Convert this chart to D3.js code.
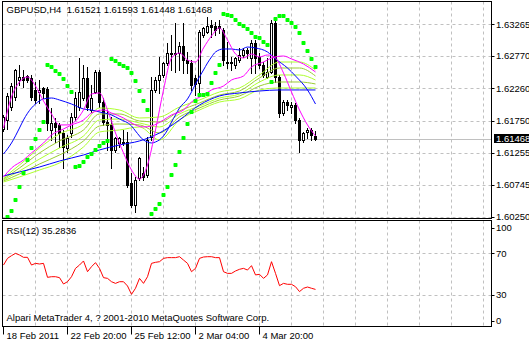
<!DOCTYPE html>
<html>
<head>
<meta charset="utf-8">
<script src="https://cdn.jsdelivr.net/npm/d3@7"></script>
<style>
  body { margin: 0; background: #fff; }
  svg text { font-family: "Liberation Sans", Arial, sans-serif; font-size: 9.5px; fill: #000; }
</style>
</head>
<body>
<div id="chart"></div>
<script>
// GBPUSD H4 candles (bar 0 = 18 Feb 2011)
const opens = [1.61625,1.61766,1.61975,1.62132,1.62393,1.62445,1.62455,1.62419,1.62236,1.62210,
  1.62262,1.62247,1.61610,1.61714,1.61688,1.61558,1.61323,1.61558,1.61819,1.61975,
  1.62106,1.62419,1.61923,1.62210,1.62523,1.62053,1.61740,1.61688,1.61297,1.61401,
  1.61427,1.61427,1.60775,1.60436,1.60853,1.60931,1.60905,1.61505,1.62236,1.62393,
  1.62471,1.62654,1.62821,1.62800,1.62821,1.62925,1.62706,1.62654,1.62419,1.62341,
  1.63098,1.63150,1.63254,1.63238,1.63238,1.63176,1.62680,1.62654,1.62628,1.62706,
  1.62784,1.62863,1.62732,1.62967,1.62758,1.62628,1.62445,1.62523,1.63280,1.62445,
  1.61871,1.62053,1.61975,1.62001,1.61766,1.61453,1.61573,1.61610,1.61521];
const highs = [1.61845,1.62184,1.62341,1.62570,1.62628,1.62549,1.62471,1.62471,1.62367,1.62393,
  1.62288,1.62288,1.61949,1.61793,1.61714,1.61610,1.61532,1.61871,1.62210,1.62732,
  1.62628,1.62602,1.62314,1.62549,1.62549,1.62106,1.61923,1.61819,1.61505,1.61505,
  1.61610,1.61584,1.60931,1.60879,1.61192,1.61036,1.61505,1.62445,1.62445,1.62758,
  1.62680,1.62967,1.63098,1.63280,1.62993,1.63280,1.62836,1.62706,1.62471,1.63176,
  1.63228,1.63385,1.63332,1.63306,1.63332,1.63202,1.62993,1.62758,1.62758,1.62889,
  1.62889,1.62889,1.63019,1.63019,1.62810,1.62680,1.62732,1.63332,1.63385,1.62471,
  1.62079,1.62079,1.62053,1.62027,1.61793,1.61584,1.61636,1.61636,1.61593];
const lows = [1.61599,1.61625,1.61923,1.62079,1.62314,1.62288,1.62367,1.62079,1.62027,1.62027,
  1.62106,1.61610,1.61453,1.61427,1.61349,1.61010,1.61271,1.61505,1.61766,1.61923,
  1.62079,1.61923,1.61897,1.62184,1.61975,1.61688,1.61297,1.61010,1.61271,1.61349,
  1.61375,1.60723,1.60409,1.60331,1.60827,1.60827,1.60879,1.61453,1.62210,1.62184,
  1.62445,1.62628,1.62549,1.62523,1.62549,1.62497,1.62497,1.62236,1.62158,1.62158,
  1.63071,1.63124,1.63071,1.63098,1.63124,1.62628,1.62576,1.62549,1.62576,1.62680,
  1.62758,1.62732,1.62497,1.62497,1.62576,1.62445,1.62419,1.62497,1.62367,1.61819,
  1.61845,1.61923,1.61871,1.61714,1.61271,1.61427,1.61479,1.61453,1.61448];
const closes = [1.61808,1.62142,1.62299,1.62549,1.62445,1.62393,1.62393,1.62132,1.62079,1.62236,
  1.62184,1.61714,1.61714,1.61662,1.61558,1.61349,1.61479,1.61819,1.62106,1.62210,
  1.62419,1.61975,1.62106,1.62523,1.62053,1.61740,1.61688,1.61297,1.61479,1.61479,
  1.61401,1.60749,1.60436,1.60827,1.61166,1.60879,1.61453,1.62236,1.62393,1.62471,
  1.62654,1.62821,1.62800,1.62821,1.62925,1.62706,1.62654,1.62314,1.62330,1.63150,
  1.63202,1.63238,1.63228,1.63176,1.63202,1.62706,1.62654,1.62680,1.62732,1.62784,
  1.62863,1.62810,1.62967,1.62732,1.62628,1.62471,1.62523,1.63280,1.62445,1.61871,
  1.62053,1.62001,1.62001,1.61766,1.61453,1.61558,1.61610,1.61532,1.61468];

// Parabolic SAR per bar
const sar = [null,1.60246,1.60340,1.60512,1.60716,1.60935,1.61139,1.61327,1.61468,1.61609,
  1.61734,1.62627,1.62596,1.62533,1.62486,1.62408,1.62298,1.62204,1.61029,1.61045,
  1.61107,1.61186,1.61233,1.61296,1.61358,1.61405,1.61437,1.62721,1.62690,1.62643,
  1.62612,1.62580,1.62502,1.62377,1.62220,1.62063,1.61922,1.60293,1.60371,1.60449,
  1.60590,1.60716,1.60904,1.61060,1.61264,1.61484,1.61703,1.61891,1.62063,1.62157,
  1.62157,1.62173,1.62345,1.62502,1.62627,1.63427,1.63411,1.63395,1.63333,1.63270,
  1.63239,1.63192,1.63129,1.63066,1.63051,1.62988,1.62941,1.62361,1.63348,1.63395,
  1.63395,1.63333,1.63286,1.63223,1.63129,1.62972,1.62847,1.62721,1.62596];

// moving averages as [bar, price]
const magentaFast = [[0,1.61640],[2,1.62126],[4,1.62361],[6,1.62439],[8,1.62298],[10,1.62063],
  [12,1.61860],[14,1.61688],[16,1.61688],[18,1.61750],[20,1.61922],[22,1.62173],[24,1.62189],
  [26,1.61922],[28,1.61562],[30,1.61249],[32,1.60982],[34,1.60841],[36,1.61060],[38,1.61609],
  [40,1.62236],[42,1.62737],[44,1.62815],[46,1.62706],[48,1.62674],[50,1.62894],[52,1.63082],
  [54,1.63207],[56,1.63019],[58,1.62800],[60,1.62737],[62,1.62800],[64,1.62753],[66,1.62784],
  [68,1.62737],[70,1.62502],[72,1.62204],[74,1.61922],[76,1.61688],[78,1.61515]];
const magentaSlow = [[0,1.60872],[2,1.61013],[5,1.61139],[7,1.61249],[10,1.61405],[12,1.61531],
  [15,1.61625],[17,1.61688],[20,1.61766],[22,1.61875],[25,1.61922],[27,1.61875],[30,1.61797],
  [32,1.61719],[35,1.61656],[37,1.61672],[40,1.61766],[42,1.61844],[45,1.61922],[47,1.62047],
  [50,1.62157],[52,1.62236],[55,1.62298],[57,1.62392],[60,1.62455],[62,1.62596],[65,1.62674],
  [67,1.62737],[70,1.62768],[72,1.62722],[75,1.62643],[78,1.62518]];
const blueFast = [[0,1.61233],[2,1.61405],[4,1.61640],[5,1.61766],[7,1.61954],[8,1.62016],
  [10,1.62095],[12,1.62110],[14,1.62079],[17,1.62016],[20,1.61938],[22,1.61922],[24,1.61891],
  [27,1.61844],[29,1.61781],[32,1.61672],[33,1.61593],[35,1.61452],[36,1.61421],[37,1.61405],
  [38,1.61421],[40,1.61515],[41,1.61609],[42,1.61734],[43,1.61844],[44,1.61954],[46,1.62095],
  [47,1.62204],[48,1.62330],[50,1.62549],[51,1.62659],[52,1.62753],[53,1.62831],[55,1.62878],
  [57,1.62878],[59,1.62862],[61,1.62909],[63,1.62894],[66,1.62831],[68,1.62722],[71,1.62580],
  [73,1.62455],[76,1.62236],[78,1.62016]];
const blueSlow = [[0,1.60888],[4,1.60951],[9,1.61029],[14,1.61123],[20,1.61217],[24,1.61296],
  [29,1.61374],[34,1.61437],[39,1.61562],[44,1.61766],[49,1.62000],[54,1.62142],[59,1.62189],
  [64,1.62220],[69,1.62236],[74,1.62236],[78,1.62236]];

// ribbon of yellow-green averages, sampled at these bars
const ribbonBars = [0,4,9,14,20,24,29,34,39,44,49,54,59,64,69,74,78];
const ribbon1 = [1.60857,1.61060,1.61327,1.61546,1.61703,1.61954,1.61922,1.61797,1.61813,1.61969,1.62079,1.62204,1.62267,1.62471,1.62674,1.62674,1.62549];
const ribbon2 = [1.60841,1.61014,1.61249,1.61437,1.61609,1.61860,1.61860,1.61750,1.61734,1.61907,1.62032,1.62157,1.62220,1.62424,1.62580,1.62580,1.62455];
const ribbon3 = [1.60826,1.60967,1.61154,1.61327,1.61515,1.61766,1.61781,1.61719,1.61656,1.61860,1.61985,1.62110,1.62173,1.62361,1.62471,1.62471,1.62392];
const ribbon4 = [1.60810,1.60920,1.61076,1.61217,1.61437,1.61672,1.61703,1.61688,1.61562,1.61813,1.61954,1.62079,1.62142,1.62298,1.62361,1.62361,1.62330];
const ribbon5 = [1.60794,1.60873,1.60982,1.61092,1.61343,1.61578,1.61609,1.61656,1.61452,1.61766,1.61922,1.62047,1.62095,1.62236,1.62267,1.62267,1.62267];

// RSI(12) per bar
const rsi = [58.7,65.1,67.7,69.9,68.3,66.1,66.1,58.7,60.3,59.7,60.3,46.9,47.5,47.5,46.6,40.5,42.7,47.5,55.5,58.7,
  62.6,52.3,57.1,61.0,55.5,46.6,45.9,42.7,41.1,42.7,42.7,38.6,30.6,36.4,45.9,41.1,47.5,60.3,61.3,61.9,
  65.1,65.8,65.8,65.8,66.7,63.5,60.3,52.3,55.5,65.1,66.4,66.7,66.7,65.8,65.8,52.3,50.7,50.7,53.0,54.6,
  55.5,53.9,58.1,49.2,49.8,45.9,49.2,61.9,50.7,38.9,41.1,40.2,40.2,37.9,33.2,36.4,37.6,36.4,35.3];
const rsiLast = 35.2836;

const priceTicks = [1.63265,1.62770,1.62260,1.61750,1.61255,1.60745,1.60250];
const rsiTicks = [100,70,30,0];
const timeTickBars = [0,16,32,48,64];
const timeLabels = ["18 Feb 2011","22 Feb 20:00","25 Feb 12:00","2 Mar 04:00","4 Mar 20:00"];

const W = 529, H = 344;
const L = 2.5, R = 491.5, mainTop = 1.5, mainBot = 218.5, rsiTop = 220.5, rsiBot = 326.5;
const lastBar = closes.length - 1;

const svg = d3.select("#chart").append("svg")
  .attr("width", W).attr("height", H).style("display", "block");

const x = d3.scaleLinear().domain([0, 122]).range([3.5, 491.5]);
const y = d3.scaleLinear().domain([1.60250, 1.63265]).range([216.7, 24.3]);
const yr = d3.scaleLinear().domain([0, 100]).range([326.2, 222]);
const crisp = v => Math.round(v) + 0.5;

const defs = svg.append("defs");
defs.append("clipPath").attr("id", "clipMain").append("rect")
  .attr("x", L).attr("y", mainTop).attr("width", R - L).attr("height", mainBot - mainTop);
defs.append("clipPath").attr("id", "clipRsi").append("rect")
  .attr("x", L).attr("y", rsiTop).attr("width", R - L).attr("height", rsiBot - rsiTop);

// grid
const gridBars = d3.range(8, 121, 8);
const grid = svg.append("g").attr("stroke", "#c0c0c0").attr("stroke-dasharray", "3,3");
[[mainTop, mainBot], [rsiTop, rsiBot]].forEach(([t, b]) => {
  grid.selectAll(null).data(gridBars).join("line")
    .attr("x1", d => x(d)).attr("x2", d => x(d)).attr("y1", t).attr("y2", b);
});
grid.selectAll(null).data(priceTicks).join("line")
  .attr("x1", L).attr("x2", R).attr("y1", d => crisp(y(d))).attr("y2", d => crisp(y(d)));
grid.selectAll(null).data([70, 30]).join("line")
  .attr("x1", L).attr("x2", R).attr("y1", d => crisp(yr(d))).attr("y2", d => crisp(yr(d)));

// current price line
svg.append("line").attr("x1", L).attr("x2", R)
  .attr("y1", crisp(y(closes[lastBar]))).attr("y2", crisp(y(closes[lastBar])))
  .attr("stroke", "#c0c0c0");

const main = svg.append("g").attr("clip-path", "url(#clipMain)");

// candles
const idx = d3.range(closes.length);
const candles = main.append("g");
candles.selectAll("line").data(idx).join("line")
  .attr("x1", i => x(i)).attr("x2", i => x(i))
  .attr("y1", i => Math.round(y(highs[i]))).attr("y2", i => Math.round(y(lows[i])) + 1)
  .attr("stroke", "#000");
candles.selectAll("rect").data(idx).join("rect")
  .attr("x", i => x(i) - 1).attr("width", 2)
  .attr("y", i => crisp(y(Math.max(opens[i], closes[i]))))
  .attr("height", i => Math.max(0, Math.round(y(Math.min(opens[i], closes[i]))) - Math.round(y(Math.max(opens[i], closes[i])))))
  .attr("fill", i => closes[i] >= opens[i] ? "#fff" : "#000")
  .attr("stroke", "#000");

// moving averages
const maLine = d3.line().x(d => x(d[0])).y(d => y(d[1])).curve(d3.curveMonotoneX);
const ribbons = [ribbon1, ribbon2, ribbon3, ribbon4, ribbon5];
const ribbonColors = ["#adff2f", "#9acd32", "#adff2f", "#9acd32", "#adff2f"];
ribbons.forEach((r, k) => {
  main.append("path").attr("d", maLine(ribbonBars.map((b, j) => [b, r[j]])))
    .attr("fill", "none").attr("stroke", ribbonColors[k]);
});
[[blueSlow, "#0000ff"], [blueFast, "#0000ff"], [magentaSlow, "#ff00ff"], [magentaFast, "#ff00ff"]]
  .forEach(([s, c]) => {
    main.append("path").attr("d", maLine(s)).attr("fill", "none").attr("stroke", c);
  });

// parabolic SAR
main.selectAll("rect.sar").data(idx.filter(i => sar[i] != null)).join("rect")
  .attr("class", "sar")
  .attr("x", i => x(i) - 2).attr("y", i => Math.round(y(sar[i])) - 2)
  .attr("width", 4).attr("height", 4).attr("rx", 0.8)
  .attr("fill", "#00ff00");

// RSI
svg.append("g").attr("clip-path", "url(#clipRsi)").append("path")
  .attr("d", d3.line().x((d, i) => x(i)).y(d => yr(d))(rsi))
  .attr("fill", "none").attr("stroke", "#ff0000");

// frames
const frames = svg.append("g").attr("fill", "none").attr("stroke", "#000");
frames.append("rect").attr("x", L).attr("y", mainTop).attr("width", R - L).attr("height", mainBot - mainTop);
frames.append("rect").attr("x", L).attr("y", rsiTop).attr("width", R - L).attr("height", rsiBot - rsiTop);

// price axis
const pAxis = svg.append("g");
pAxis.selectAll("line").data(priceTicks).join("line")
  .attr("x1", R).attr("x2", R + 3).attr("y1", d => crisp(y(d))).attr("y2", d => crisp(y(d)))
  .attr("stroke", "#000");
pAxis.selectAll("text").data(priceTicks).join("text")
  .attr("x", 496).attr("y", d => y(d)).attr("dy", "0.35em").text(d => d.toFixed(5));
const cy = y(closes[lastBar]);
pAxis.append("rect").attr("x", 494).attr("y", Math.round(cy) - 5).attr("width", 35).attr("height", 9).attr("fill", "#000");
pAxis.append("text").attr("x", 496).attr("y", cy).attr("dy", "0.35em")
  .style("fill", "#fff").text(closes[lastBar].toFixed(5));

// RSI axis
const rAxis = svg.append("g");
const rPos = v => Math.min(321, Math.max(228, yr(v)));
rAxis.selectAll("line").data(rsiTicks).join("line")
  .attr("x1", R).attr("x2", R + 3).attr("y1", d => crisp(rPos(d))).attr("y2", d => crisp(rPos(d)))
  .attr("stroke", "#000");
rAxis.selectAll("text").data(rsiTicks).join("text")
  .attr("x", 496).attr("y", d => rPos(d)).attr("dy", "0.35em").text(d => d);

// time axis
const tAxis = svg.append("g");
tAxis.selectAll("line").data(timeTickBars).join("line")
  .attr("x1", d => x(d)).attr("x2", d => x(d)).attr("y1", rsiBot).attr("y2", rsiBot + 8)
  .attr("stroke", "#000");
tAxis.selectAll("text").data(timeTickBars).join("text")
  .attr("x", d => x(d) + 3).attr("y", 338.5).text((d, k) => timeLabels[k]);

// captions
svg.append("text").attr("x", 6.5).attr("y", 13).attr("xml:space", "preserve")
  .text(`GBPUSD,H4  ${opens[lastBar].toFixed(5)} ${highs[lastBar].toFixed(5)} ${lows[lastBar].toFixed(5)} ${closes[lastBar].toFixed(5)}`);
svg.append("text").attr("x", 6.5).attr("y", 234).text(`RSI(12) ${rsiLast}`);
svg.append("text").attr("x", 6.5).attr("y", 320.5).text("Alpari MetaTrader 4, ? 2001-2010 MetaQuotes Software Corp.");
</script>
</body>
</html>
